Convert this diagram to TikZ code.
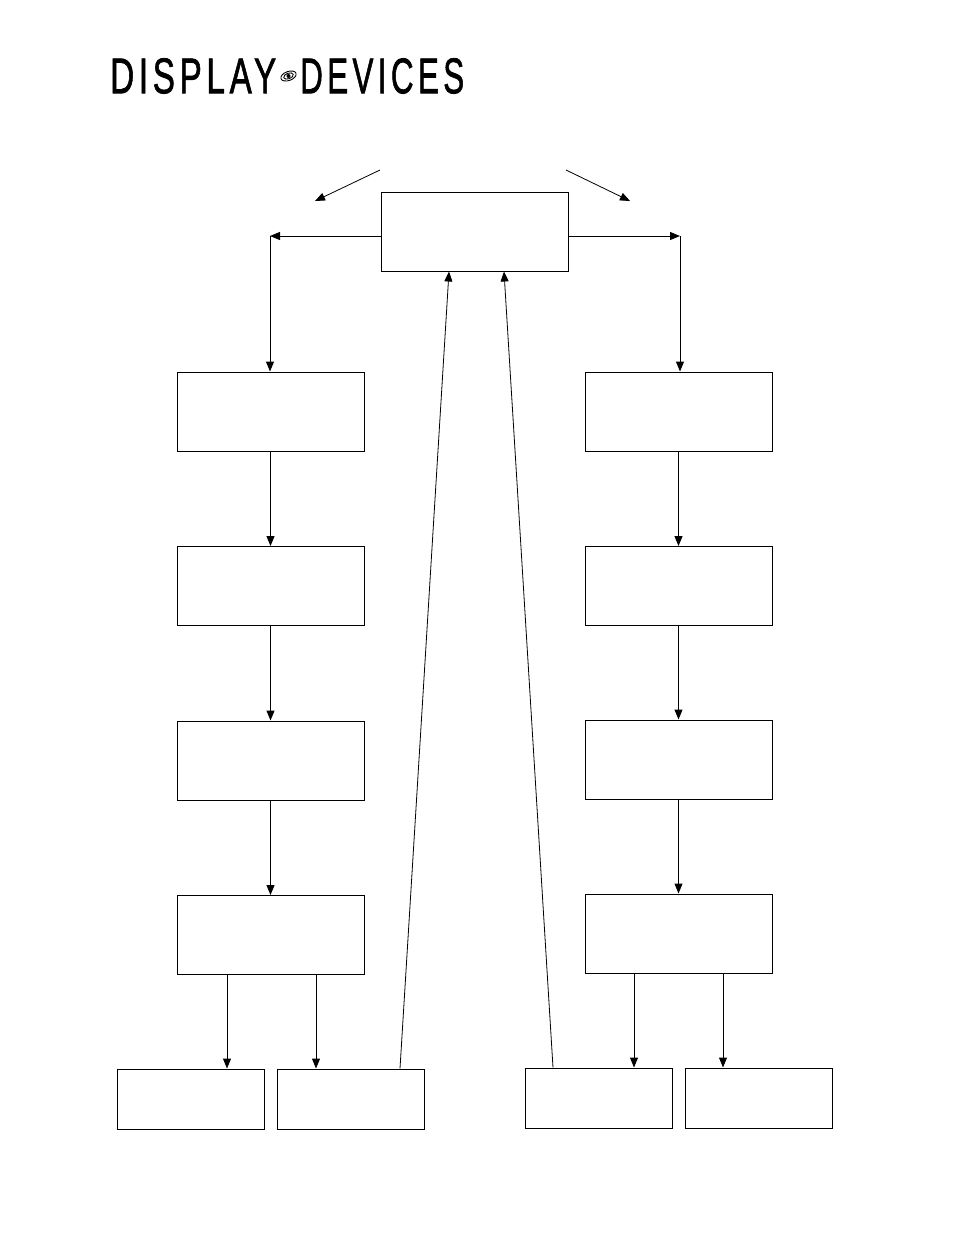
\documentclass[tikz,border=0pt]{standalone}
\usepackage{fontspec}
\setmainfont{Liberation Sans}
\newfontfamily\logofont[FakeBold=1.6,LetterSpace=14]{Liberation Sans}
\usetikzlibrary{arrows.meta}
\begin{document}
\begin{tikzpicture}[x=1pt,y=-1pt,
  box/.style={draw,line width=1pt,minimum width=187pt,minimum height=79pt,inner sep=0pt},
  smallbox/.style={draw,line width=1pt,minimum width=147pt,minimum height=60pt,inner sep=0pt},
  conn/.style={line width=1pt,-{Triangle[length=10pt,width=8pt]}},
  thin/.style={line width=0.8pt,-{Triangle[length=10pt,width=8pt]}}]
\useasboundingbox (0,0) rectangle (954,1235);
% logo
\node[anchor=north west,inner sep=0pt] (logoA) at (110,58) {\resizebox{166pt}{35pt}{\logofont DISPLAY}};
\node[anchor=north west,inner sep=0pt] (logoB) at (300,58) {\resizebox{164pt}{35pt}{\logofont DEVICES}};
\draw[line width=0.9pt,rotate around={20:(288.5,76)}] (288.5,76) ellipse (8pt and 4.5pt);
\draw[line width=0.9pt,rotate around={20:(288.5,76)}] (288.5,76) ellipse (5pt and 2.8pt);
\fill (288.5,76) circle (2pt);
% top box
\node[box] (top) at (474.5,231.5) {};
% left column
\node[box] (L1) at (270.5,411.5) {};
\node[box] (L2) at (270.5,586) {};
\node[box] (L3) at (270.5,760.5) {};
\node[box] (L4) at (270.5,935) {};
% right column
\node[box] (R1) at (678.5,411.5) {};
\node[box] (R2) at (678.5,586) {};
\node[box] (R3) at (678.5,759.5) {};
\node[box] (R4) at (678.5,933.5) {};
% bottom boxes
\node[smallbox] (B1) at (190.5,1099) {};
\node[smallbox] (B2) at (350.5,1099) {};
\node[smallbox] (B3) at (598.5,1098) {};
\node[smallbox] (B4) at (758.5,1098) {};
% coordinates
\coordinate (cl) at (270,236);
\coordinate (cr) at (680,236);
\coordinate (dl1) at (380,170);
\coordinate (dl2) at (315,201);
\coordinate (dr1) at (566,170);
\coordinate (dr2) at (630,201);
% top connectors
\draw[conn] (top.west |- cl) -- (cl);
\draw[conn] (cl) -- (cl |- L1.north);
\draw[conn] (top.east |- cr) -- (cr);
\draw[conn] (cr) -- (cr |- R1.north);
\draw[thin] (dl1) -- (dl2);
\draw[thin] (dr1) -- (dr2);
% columns
\draw[conn] (L1.south) -- (L2.north);
\draw[conn] (L2.south) -- (L3.north);
\draw[conn] (L3.south) -- (L4.north);
\draw[conn] (R1.south) -- (R2.north);
\draw[conn] (R2.south) -- (R3.north);
\draw[conn] (R3.south) -- (R4.north);
% to bottom boxes
\draw[conn] (L4.south -| 227,0) -- (B1.north -| 227,0);
\draw[conn] (L4.south -| 316,0) -- (B2.north -| 316,0);
\draw[conn] (R4.south -| 634,0) -- (B3.north -| 634,0);
\draw[conn] (R4.south -| 723,0) -- (B4.north -| 723,0);
% long returns
\draw[thin] (B2.north -| 400,0) -- (top.south -| 449,0);
\draw[thin] (B3.north -| 553,0) -- (top.south -| 504,0);
\end{tikzpicture}
\end{document}
